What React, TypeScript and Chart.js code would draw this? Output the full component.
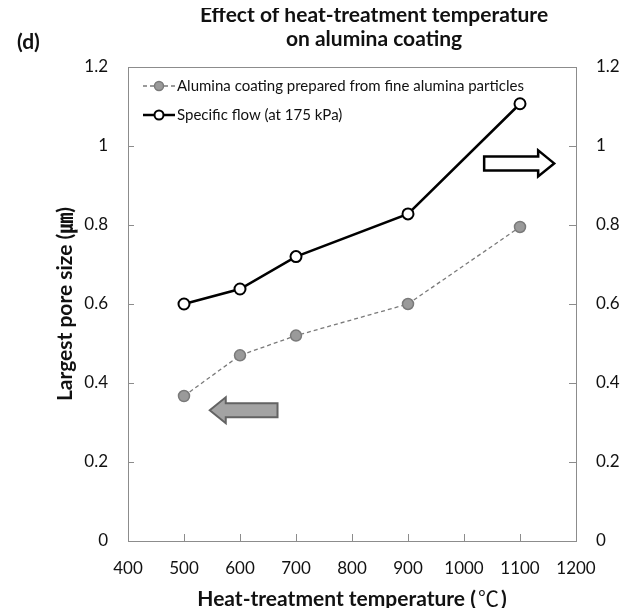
import React, { useEffect, useRef } from "react";
import { Chart, registerables } from "chart.js";

Chart.register(...registerables);

// ---- data ----
const temperatures = [500, 600, 700, 900, 1100];
const poreSize = [0.367, 0.47, 0.52, 0.6, 0.795];
const specificFlow = [0.6, 0.638, 0.72, 0.828, 1.107];
const seriesLabels = [
  "Alumina coating prepared from fine alumina particles",
  "Specific flow (at 175 kPa)",
];
const xTickValues = [400, 500, 600, 700, 800, 900, 1000, 1100, 1200];
const yTickValues = [0, 0.2, 0.4, 0.6, 0.8, 1, 1.2];
const titleLines = ["Effect of heat-treatment temperature", "on alumina coating"];
const panelLabel = "(d)";
const xTitleParts = ["Heat-treatment temperature (", "\u2103", ")"];
const yTitle = "Largest pore size (\u339B)";

const FONT = "Lato, 'Noto Sans', 'Noto Sans CJK KR', sans-serif";
const CJK = "'Noto Sans CJK KR', 'Noto Sans CJK SC', sans-serif";

const overlayPlugin = {
  id: "overlay",
  beforeDatasetsDraw(chart: any) {
    const { ctx, chartArea: a, scales } = chart;
    ctx.save();
    ctx.strokeStyle = "#8c8c8c";
    ctx.lineWidth = 1;
    ctx.strokeRect(Math.round(a.left) + 0.5, Math.round(a.top) + 0.5, Math.round(a.right - a.left), Math.round(a.bottom - a.top));
    ctx.beginPath();
    for (const v of xTickValues) {
      const px = Math.round(scales.x.getPixelForValue(v)) + 0.5;
      ctx.moveTo(px, a.bottom);
      ctx.lineTo(px, a.bottom - 7);
    }
    for (const v of yTickValues) {
      const py = Math.round(scales.y.getPixelForValue(v)) + 0.5;
      ctx.moveTo(a.left, py);
      ctx.lineTo(a.left + 6, py);
      ctx.moveTo(a.right, py);
      ctx.lineTo(a.right - 7, py);
    }
    ctx.stroke();
    ctx.restore();
  },
  afterDatasetsDraw(chart: any, _args: any, opts: any) {
    const { ctx, chartArea: a, scales } = chart;
    ctx.save();
    // arrows
    for (const ar of opts.arrows) {
      const fx = scales.x.getPixelForValue(ar.fromX);
      const tx = scales.x.getPixelForValue(ar.toX);
      const cy = scales.y.getPixelForValue(ar.y);
      const d = Math.sign(tx - fx);
      const h = 16, hh = 13, sh = 7;
      ctx.beginPath();
      ctx.moveTo(fx, cy - sh);
      ctx.lineTo(tx - d * h, cy - sh);
      ctx.lineTo(tx - d * h, cy - hh);
      ctx.lineTo(tx, cy);
      ctx.lineTo(tx - d * h, cy + hh);
      ctx.lineTo(tx - d * h, cy + sh);
      ctx.lineTo(fx, cy + sh);
      ctx.closePath();
      ctx.fillStyle = ar.fill;
      ctx.fill();
      ctx.lineWidth = ar.lineWidth;
      ctx.strokeStyle = ar.stroke;
      ctx.lineJoin = "miter";
      ctx.stroke();
    }
    // legend
    const ds = chart.data.datasets;
    const ly = [a.top + 19, a.top + 48];
    ds.forEach((d: any, i: number) => {
      const y = ly[i];
      const x0 = a.left + 15, x1 = a.left + 47;
      ctx.beginPath();
      ctx.setLineDash(d.borderDash || []);
      ctx.strokeStyle = d.borderColor;
      ctx.lineWidth = d.borderWidth;
      ctx.moveTo(x0, y);
      ctx.lineTo(x1, y);
      ctx.stroke();
      ctx.setLineDash([]);
      ctx.beginPath();
      ctx.arc((x0 + x1) / 2, y, 4.5, 0, Math.PI * 2);
      ctx.fillStyle = d.pointBackgroundColor;
      ctx.fill();
      ctx.lineWidth = d.pointBorderWidth;
      ctx.strokeStyle = d.pointBorderColor;
      ctx.stroke();
      ctx.fillStyle = "#111";
      ctx.font = `15px ${FONT}`;
      ctx.textAlign = "left";
      ctx.textBaseline = "middle";
      ctx.fillText(d.label, x1 + 2, y);
    });
    // title
    ctx.fillStyle = "#111";
    ctx.font = `bold 21px ${FONT}`;
    ctx.textAlign = "center";
    ctx.textBaseline = "alphabetic";
    ctx.fillText(titleLines[0], 366, 14);
    ctx.fillText(titleLines[1], 366, 38);
    ctx.textAlign = "left";
    ctx.fillText(panelLabel, 9, 41);
    // x title (degree sign drawn with a CJK font, as in the original)
    const fonts = [`bold 21px ${FONT}`, `21px ${CJK}`, `bold 21px ${FONT}`];
    const widths = xTitleParts.map((p, i) => { ctx.font = fonts[i]; return ctx.measureText(p).width; });
    const total = widths.reduce((s, w) => s + w, 0) + 4;
    let xx = (a.left + a.right) / 2 - total / 2;
    ctx.textAlign = "left";
    xTitleParts.forEach((p, i) => {
      ctx.font = fonts[i];
      ctx.fillText(p, xx, 598);
      xx += widths[i] + (i < 2 ? 2 : 0);
    });
    // y title
    ctx.save();
    ctx.font = `bold 21px ${FONT}`;
    ctx.textAlign = "center";
    ctx.translate(57, (a.top + a.bottom) / 2);
    ctx.rotate(-Math.PI / 2);
    ctx.textBaseline = "middle";
    ctx.fillText(yTitle, 0, 0);
    ctx.restore();
    ctx.restore();
  },
};

export default function App() {
  const ref = useRef<HTMLCanvasElement>(null);
  useEffect(() => {
    if (!ref.current) return;
    const tickFont = { family: FONT, size: 17 };
    const fmt = (v: any) => String(v);
    const chart = new Chart(ref.current, {
      type: "line",
      data: {
        labels: temperatures,
        datasets: [
          {
            label: seriesLabels[0],
            data: temperatures.map((t, i) => ({ x: t, y: poreSize[i] })),
            borderColor: "#7a7a7a",
            borderWidth: 1.3,
            borderDash: [4, 3],
            pointBackgroundColor: "#9a9a9a",
            pointBorderColor: "#7a7a7a",
            pointBorderWidth: 1.5,
            pointRadius: 5.5,
            yAxisID: "y",
          },
          {
            label: seriesLabels[1],
            data: temperatures.map((t, i) => ({ x: t, y: specificFlow[i] })),
            borderColor: "#000",
            borderWidth: 2.5,
            pointBackgroundColor: "#fff",
            pointBorderColor: "#000",
            pointBorderWidth: 2,
            pointRadius: 5.5,
            yAxisID: "y",
          },
        ],
      },
      options: {
        animation: false,
        responsive: false,
        layout: { padding: { top: 59, left: 0, right: 0, bottom: 0 } },
        plugins: {
          legend: { display: false },
          tooltip: { enabled: false },
          title: { display: false },
          overlay: {
            arrows: [
              { fromX: 667, toX: 546, y: 0.331, fill: "#a3a3a3", stroke: "#636363", lineWidth: 2 },
              { fromX: 1036, toX: 1161, y: 0.956, fill: "#ffffff", stroke: "#000", lineWidth: 2.5 },
            ],
          },
        } as any,
        scales: {
          x: {
            type: "linear",
            min: 400,
            max: 1200,
            afterBuildTicks: (s: any) => { s.ticks = xTickValues.map((v) => ({ value: v })); },
            afterFit: (s: any) => { s.height = 67; },
            grid: { display: false, drawTicks: false },
            border: { display: false },
            ticks: { font: tickFont, color: "#111", padding: 17, maxRotation: 0, callback: fmt },
          },
          y: {
            position: "left",
            min: 0,
            max: 1.2,
            afterBuildTicks: (s: any) => { s.ticks = yTickValues.map((v) => ({ value: v })); },
            afterFit: (s: any) => { s.width = 120; },
            grid: { display: false, drawTicks: false },
            border: { display: false },
            ticks: { font: tickFont, color: "#111", padding: 20, callback: fmt },
          },
          y2: {
            position: "right",
            min: 0,
            max: 1.2,
            afterBuildTicks: (s: any) => { s.ticks = yTickValues.map((v) => ({ value: v })); },
            afterFit: (s: any) => { s.width = 52; },
            grid: { display: false, drawTicks: false },
            border: { display: false },
            ticks: { font: tickFont, color: "#111", padding: 20, callback: fmt },
          },
        },
      },
      plugins: [overlayPlugin],
    } as any);
    return () => chart.destroy();
  }, []);
  return (
    <div style={{ width: 620, height: 600 }}>
      <canvas ref={ref} width={620} height={600} style={{ display: "block" }} />
    </div>
  );
}
